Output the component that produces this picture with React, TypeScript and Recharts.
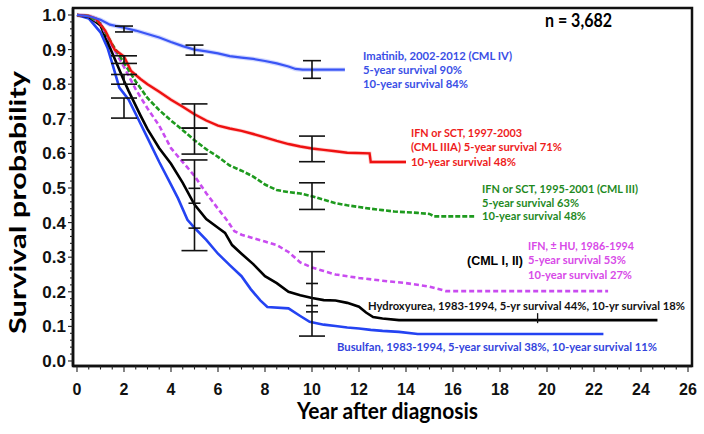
import React from 'react';
import { ComposedChart, Line, Scatter, ErrorBar, XAxis, YAxis, ReferenceArea } from 'recharts';

// Kaplan-Meier curves: [year, survival]
const imatinibCurve = [
  [0, 1.0], [0.3, 0.998], [0.6, 0.995], [1, 0.986], [1.4, 0.972], [2, 0.963], [2.5, 0.955], [3, 0.945],
  [3.5, 0.935], [4, 0.922], [4.5, 0.91], [5, 0.9], [5.5, 0.895], [6, 0.889], [6.5, 0.881], [7, 0.877],
  [7.5, 0.873], [8, 0.867], [8.5, 0.86], [9, 0.851], [9.3, 0.844], [9.6, 0.842], [10, 0.842], [11.4, 0.842],
];
const ifnSct9703Curve = [
  [0, 1.0], [0.5, 0.997], [0.8, 0.99], [1.2, 0.955], [1.6, 0.9], [2, 0.88], [2.3, 0.838], [2.7, 0.815],
  [3, 0.8], [3.5, 0.778], [4, 0.755], [4.5, 0.735], [5, 0.713], [5.5, 0.695], [6, 0.68], [6.5, 0.672],
  [7, 0.665], [7.5, 0.656], [8, 0.646], [8.5, 0.636], [9, 0.627], [9.5, 0.62], [10, 0.614], [10.5, 0.61],
  [11, 0.606], [11.5, 0.602], [12.45, 0.6], [12.5, 0.575], [14, 0.575],
];
const ifnSct9501Curve = [
  [0, 1.0], [0.5, 0.997], [1, 0.975], [1.5, 0.915], [2, 0.862], [2.5, 0.808], [3, 0.76], [3.5, 0.725],
  [4, 0.695], [4.5, 0.667], [5, 0.638], [5.5, 0.612], [6, 0.59], [6.5, 0.565], [7, 0.55], [7.5, 0.533],
  [8, 0.51], [8.5, 0.494], [9, 0.488], [9.5, 0.484], [10, 0.476], [10.5, 0.466], [11, 0.456], [11.5, 0.45],
  [12, 0.445], [12.5, 0.44], [13, 0.436], [13.5, 0.432], [14, 0.43], [14.5, 0.428], [15, 0.425],
  [15.2, 0.418], [16.9, 0.418],
];
const ifnHuCurve = [
  [0, 1.0], [0.5, 0.997], [1, 0.975], [1.5, 0.91], [2, 0.85], [2.5, 0.785], [3, 0.73], [3.5, 0.68],
  [4, 0.615], [4.5, 0.575], [5, 0.535], [5.5, 0.485], [6, 0.44], [6.4, 0.405], [6.7, 0.375], [7, 0.365],
  [7.5, 0.355], [8, 0.345], [8.5, 0.335], [9, 0.315], [9.5, 0.285], [10, 0.27], [10.5, 0.26], [11, 0.25],
  [12, 0.24], [13, 0.232], [14, 0.225], [15, 0.215], [15.7, 0.202], [22.6, 0.202],
];
const hydroxyureaCurve = [
  [0, 1.0], [0.5, 0.995], [1, 0.97], [1.5, 0.89], [2, 0.81], [2.2, 0.78], [2.7, 0.71], [3, 0.67],
  [3.5, 0.615], [4, 0.57], [4.5, 0.515], [5, 0.452], [5.5, 0.41], [6, 0.385], [6.3, 0.37], [6.6, 0.335],
  [7, 0.31], [7.5, 0.28], [8, 0.245], [8.5, 0.225], [9, 0.2], [9.5, 0.19], [10, 0.182], [10.5, 0.176],
  [11, 0.175], [11.5, 0.168], [12, 0.157], [12.3, 0.14], [12.6, 0.127], [13, 0.123], [13.7, 0.118], [24.7, 0.118],
];
const busulfanCurve = [
  [0, 1.0], [0.5, 0.99], [1, 0.95], [1.3, 0.905], [1.5, 0.86], [1.8, 0.79], [2.2, 0.755], [2.6, 0.7],
  [3, 0.645], [3.5, 0.575], [4, 0.51], [4.3, 0.47], [4.7, 0.408], [5, 0.385], [5.5, 0.35], [6, 0.31],
  [6.5, 0.277], [7, 0.245], [7.4, 0.207], [7.8, 0.175], [8.1, 0.156], [9, 0.152], [9.5, 0.13], [9.9, 0.113],
  [10.5, 0.105], [11, 0.101], [11.5, 0.097], [12, 0.094], [12.5, 0.09], [13, 0.087], [13.7, 0.084],
  [14.5, 0.078], [22.4, 0.078],
];

// confidence bars: [year, low, high]
const narrowBars = [[2, 0.951, 0.968], [5, 0.884, 0.913], [10, 0.817, 0.868]];
const wideBars = [
  [2, 0.86, 0.882], [2, 0.8, 0.828], [2, 0.702, 0.76],
  [5, 0.598, 0.673], [5, 0.673, 0.743], [5, 0.319, 0.581],
  [10, 0.576, 0.65], [10, 0.438, 0.515], [10, 0.072, 0.316],
];
const innerCaps = [[5, 0.499], [5, 0.456], [5, 0.384], [10, 0.224], [10, 0.16], [10, 0.142]];
const censorMarks = [[19.6, 0.118]];

const xTicks = Array.from({ length: 53 }, (_, i) => i * 0.5);
const yTicks = Array.from({ length: 51 }, (_, i) => Math.round(i * 2) / 100);

const toPts = (arr: number[][]) => arr.map(([x, y]) => ({ x, y }));
const toBars = (arr: number[][]) =>
  arr.map(([x, lo, hi]) => ({ x, y: (lo + hi) / 2, err: (hi - lo) / 2 }));

const XTick = (p: any) => {
  const v = p.payload.value;
  const major = Math.abs(v % 2) < 1e-6;
  return (
    <g>
      <line x1={p.x} x2={p.x} y1={p.y} y2={p.y + (major ? 6 : 3.5)} stroke="#222" strokeWidth={1.1} />
      {major && (
        <text x={p.x} y={p.y + 29} textAnchor="middle" fontFamily="'Liberation Sans', Arial" fontWeight="bold" fontSize={16} fill="#111">
          {v}
        </text>
      )}
    </g>
  );
};

const YTick = (p: any) => {
  const v = p.payload.value;
  const major = Math.round(v * 100) % 10 === 0;
  return (
    <g>
      <line x1={p.x} x2={p.x - (major ? 5 : 3)} y1={p.y} y2={p.y} stroke="#222" strokeWidth={1.1} />
      {major && (
        <text x={p.x - 7} y={p.y + 6} textAnchor="end" fontFamily="'Liberation Sans', Arial" fontWeight="bold" fontSize={17} fill="#111">
          {v.toFixed(1)}
        </text>
      )}
    </g>
  );
};

const capShape = (p: any) => (
  <line x1={p.cx - 6} x2={p.cx + 6} y1={p.cy} y2={p.cy} stroke="#111" strokeWidth={1.6} />
);
const censorShape = (p: any) => (
  <line x1={p.cx} x2={p.cx} y1={p.cy - 7} y2={p.cy + 3} stroke="#111" strokeWidth={1.3} />
);

const notes = [
  { t: 'Imatinib, 2002-2012 (CML IV)', x: 363, y: 60, w: 149, c: '#3a4fe6' },
  { t: '5-year survival 90%', x: 363, y: 74, w: 99, c: '#3a4fe6' },
  { t: '10-year survival 84%', x: 363, y: 88, w: 105, c: '#3a4fe6' },
  { t: 'IFN or SCT, 1997-2003', x: 411, y: 137, w: 111, c: '#ee1c1c' },
  { t: '(CML IIIA) 5-year survival 71%', x: 411, y: 151, w: 151, c: '#ee1c1c' },
  { t: '10-year survival 48%', x: 411, y: 166, w: 105, c: '#ee1c1c' },
  { t: 'IFN or SCT, 1995-2001 (CML III)', x: 482, y: 193, w: 156, c: '#1f8a1f' },
  { t: '5-year survival 63%', x: 482, y: 207, w: 97, c: '#1f8a1f' },
  { t: '10-year survival 48%', x: 482, y: 220, w: 104, c: '#1f8a1f' },
  { t: 'IFN, \u00b1 HU, 1986-1994', x: 528, y: 250, w: 106, c: '#d84ae8' },
  { t: '5-year survival 53%', x: 528, y: 264, w: 98, c: '#d84ae8' },
  { t: '10-year survival 27%', x: 528, y: 279, w: 104, c: '#d84ae8' },
  { t: 'Hydroxyurea, 1983-1994, 5-yr survival 44%, 10-yr survival 18%', x: 368, y: 310, w: 317, c: '#111' },
  { t: 'Busulfan, 1983-1994, 5-year survival 38%, 10-year survival 11%', x: 337, y: 351, w: 320, c: '#3344dd' },
];

export default function App() {
  return (
    <div style={{ position: 'absolute', left: 0, top: 0, width: 704, height: 434, background: '#fff' }}>
      <ComposedChart width={704} height={434} margin={{ top: 8, right: 12, bottom: 38, left: 23 }}>
        <XAxis
          type="number" dataKey="x" domain={[-0.17, 26.17]} allowDataOverflow ticks={xTicks} interval={0}
          height={30} tickSize={0} tickMargin={0} tickLine={false} tick={XTick}
          axisLine={{ stroke: '#111', strokeWidth: 2.5 }}
        />
        <YAxis
          type="number" dataKey="y" domain={[-0.0145, 1.0202]} allowDataOverflow ticks={yTicks} interval={0}
          width={50} tickSize={0} tickMargin={0} tickLine={false} tick={YTick}
          axisLine={{ stroke: '#111', strokeWidth: 2.5 }}
        />
        <ReferenceArea x1={-0.17} x2={26.17} y1={-0.0145} y2={1.0202} fill="none" stroke="#111" strokeWidth={2.5} ifOverflow="visible" />

        {/* faint halo from censoring ticks */}
        <Line data={toPts(imatinibCurve)} dataKey="y" type="linear" stroke="#9aa9ff" strokeWidth={4.5} strokeOpacity={0.45} dot={false} activeDot={false} isAnimationActive={false} />
        <Line data={toPts(ifnSct9703Curve)} dataKey="y" type="linear" stroke="#ff8a8a" strokeWidth={4} strokeOpacity={0.4} dot={false} activeDot={false} isAnimationActive={false} />

        <Line data={toPts(busulfanCurve)} dataKey="y" type="linear" stroke="#2443f2" strokeWidth={2.6} dot={false} activeDot={false} isAnimationActive={false} />
        <Line data={toPts(hydroxyureaCurve)} dataKey="y" type="linear" stroke="#000" strokeWidth={2.6} dot={false} activeDot={false} isAnimationActive={false} />
        <Line data={toPts(ifnHuCurve)} dataKey="y" type="linear" stroke="#c94cf0" strokeWidth={2.6} strokeDasharray="5 3" dot={false} activeDot={false} isAnimationActive={false} />
        <Line data={toPts(ifnSct9501Curve)} dataKey="y" type="linear" stroke="#1e9a1e" strokeWidth={2.6} strokeDasharray="5 2" dot={false} activeDot={false} isAnimationActive={false} />
        <Line data={toPts(ifnSct9703Curve)} dataKey="y" type="linear" stroke="#ee1111" strokeWidth={2.4} dot={false} activeDot={false} isAnimationActive={false} />
        <Line data={toPts(imatinibCurve)} dataKey="y" type="linear" stroke="#3a55f5" strokeWidth={2.2} dot={false} activeDot={false} isAnimationActive={false} />

        <Scatter data={toBars(narrowBars)} dataKey="y" shape={() => <g />} isAnimationActive={false}>
          <ErrorBar dataKey="err" direction="y" width={9} stroke="#111" strokeWidth={1.6} isAnimationActive={false} />
        </Scatter>
        <Scatter data={toBars(wideBars)} dataKey="y" shape={() => <g />} isAnimationActive={false}>
          <ErrorBar dataKey="err" direction="y" width={13} stroke="#111" strokeWidth={1.6} isAnimationActive={false} />
        </Scatter>
        <Scatter data={toPts(innerCaps)} dataKey="y" shape={capShape} isAnimationActive={false} />
        <Scatter data={toPts(censorMarks)} dataKey="y" shape={censorShape} isAnimationActive={false} />
      </ComposedChart>

      <svg width={704} height={434} style={{ position: 'absolute', left: 0, top: 0, pointerEvents: 'none' }}>
        <g fontFamily="Lato, 'Open Sans', sans-serif" fontWeight="bold">
          {notes.map((n) => (
            <text key={n.t} x={n.x} y={n.y} fontSize={11.5} fill={n.c} textLength={n.w} lengthAdjust="spacingAndGlyphs">
              {n.t}
            </text>
          ))}
          <text x={545} y={27} fontSize={19} fill="#000" textLength={67} lengthAdjust="spacingAndGlyphs">n = 3,682</text>
          <text x={297} y={419} fontSize={22} fill="#000" textLength={181} lengthAdjust="spacingAndGlyphs">Year after diagnosis</text>
          <text transform="translate(26,334) rotate(-90)" x={0} y={0} fontSize={23} fill="#000" textLength={263} lengthAdjust="spacingAndGlyphs">
            Survival probability
          </text>
        </g>
        <text x={467} y={265} fontFamily="'Liberation Sans', Arial" fontWeight="bold" fontSize={12.5} fill="#000" textLength={56} lengthAdjust="spacingAndGlyphs">
          (CML I, II)
        </text>
      </svg>
    </div>
  );
}
